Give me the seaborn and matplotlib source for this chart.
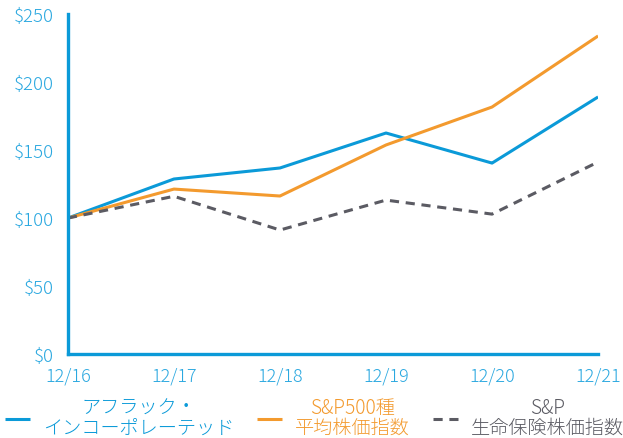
import pandas as pd
import numpy as np
import matplotlib
matplotlib.use('Agg')
import matplotlib.pyplot as plt
import seaborn as sns

# data
years = ['12/16', '12/17', '12/18', '12/19', '12/20', '12/21']
aflac = [100, 128.7, 136.8, 162.5, 140.4, 189.0]
sp500 = [100, 121.3, 116.2, 153.7, 181.6, 233.8]
sp_life = [100, 116.0, 91.2, 113.2, 102.9, 141.2]
series_names = ['アフラック・\nインコーポレーテッド', 'S&P500種\n平均株価指数', 'S&P\n生命保険株価指数']
y_ticks = [0, 50, 100, 150, 200, 250]

blue = '#0b9ad8'
orange = '#f39a2e'
gray = '#5b5b63'
tick_blue = '#2aa8e0'

df = pd.DataFrame({
    'year': years * 3,
    'idx': list(range(len(years))) * 3,
    'value': aflac + sp500 + sp_life,
    'series': [series_names[0]] * 6 + [series_names[1]] * 6 + [series_names[2]] * 6,
})

sns.set_style('white')
plt.rcParams['font.family'] = ['Noto Sans CJK JP', 'DejaVu Sans']
plt.rcParams['font.weight'] = 'light'

fig = plt.figure(figsize=(6.23, 4.39), dpi=100)
ax = fig.add_axes([0.109, 0.191, 0.851, 0.775])

sns.lineplot(data=df, x='idx', y='value', hue='series', style='series',
             palette=[blue, orange, gray],
             dashes=[(1, 0), (1, 0), (3, 2.2)],
             linewidth=2.2, ax=ax)

ax.set_xlim(0, len(years) - 1)
ax.set_ylim(0, 250)
ax.set_xticks(range(len(years)))
ax.set_xticklabels(years)
ax.set_yticks(y_ticks)
ax.set_yticklabels([f'${v}' for v in y_ticks])
ax.set_xlabel('')
ax.set_ylabel('')

for s in ['top', 'right']:
    ax.spines[s].set_visible(False)
for s in ['left', 'bottom']:
    ax.spines[s].set_color(blue)
    ax.spines[s].set_linewidth(2.4)
ax.tick_params(axis='both', colors=blue, labelcolor=tick_blue, labelsize=13,
               length=6, width=2.4, direction='out')
ax.tick_params(axis='y', labelsize=13.5, pad=4)
ax.tick_params(axis='x', pad=3)

handles, labels = ax.get_legend_handles_labels()
leg = ax.legend(handles, labels, loc='center', ncol=3, frameon=False,
                fontsize=13.8, handlelength=1.3, columnspacing=1.2,
                handletextpad=0.68, borderaxespad=0, borderpad=0,
                labelcolor=[blue, orange, gray])
leg.set_bbox_to_anchor((0.505, 0.047), transform=fig.transFigure)
for t in leg.get_texts():
    t.set_multialignment('center')
    t.set_linespacing(0.95)

fig.savefig('out.png', dpi=100)
